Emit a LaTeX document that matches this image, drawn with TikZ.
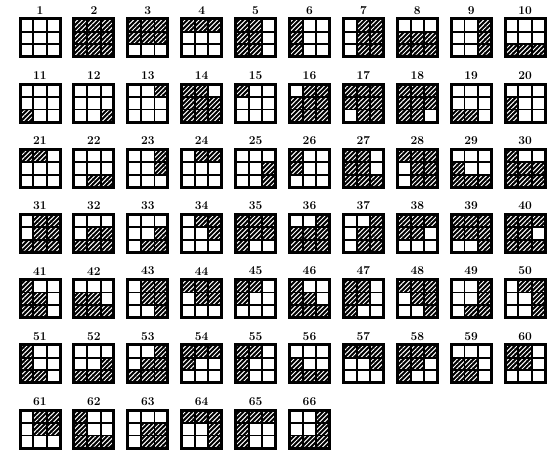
\documentclass[tikz,border=0pt]{standalone}
\usepackage{tikz}
\usetikzlibrary{patterns.meta}
\def\cellbits#1#2#3#4#5#6#7#8#9{#1,#2,#3,#4,#5,#6,#7,#8,#9}

\begin{document}
\begin{tikzpicture}[
    x=1pt, y=-1pt,
    hatched/.style={fill=black, postaction={pattern={Lines[angle=45, distance=3.3pt, line width=1.0pt]}, pattern color=white}},
    inner/.style={draw, line width=1.9pt},
    frame/.style={rectangle, draw, line width=3pt, minimum width=40, minimum height=38, inner sep=0pt},
    num/.style={font=\fontsize{12}{13}\selectfont\bfseries, inner sep=0.5pt}
]
  \useasboundingbox (0,0) rectangle (555,457);
  \foreach \n/\pat in {
    1/000000000, 2/111111111, 3/111111000, 4/111000000, 5/110110110,
    6/100100100, 7/011011011, 8/000111111, 9/001001001, 10/000000111,
    11/000000100, 12/000000001, 13/001000000, 14/110111111, 15/100000000,
    16/011111111, 17/111111011, 18/111111110, 19/000000110, 20/000100100,
    21/110000000, 22/000000011, 23/001001000, 24/011000000, 25/000001001,
    26/100100000, 27/110110111, 28/111011011, 29/000100111, 30/100111111,
    31/011011111, 32/000011111, 33/000001011, 34/011001000, 35/111111100,
    36/001111111, 37/001011011, 38/111110000, 39/111111001, 40/111110111,
    41/100110110, 42/000110111, 43/011011001, 44/111011000, 45/110100000,
    46/100110111, 47/110110100, 48/111011001, 49/001001011, 50/011001001,
    51/100100110, 52/000001111, 53/001011111, 54/111100000, 55/110100100,
    56/000100111, 57/111001000, 58/111110100, 59/000110110, 60/110110000,
    61/011011000, 62/100100111, 63/000011011, 64/111001001, 65/111100100,
    66/001001111
  }{
    \pgfmathtruncatemacro\col{mod(\n-1,10)}
    \pgfmathtruncatemacro\row{div(\n-1,10)}
    \pgfmathsetmacro\gx{40+53.9*\col}
    \pgfmathsetmacro\gy{38+65.2*\row}
    \edef\bits{\expandafter\cellbits\pat}
    % hatched cells
    \foreach \v [count=\k from 0] in \bits {
      \ifnum\v=1
        \pgfmathtruncatemacro\r{div(\k,3)}
        \pgfmathtruncatemacro\c{mod(\k,3)}
        \path[hatched] (\gx-20+13.33*\c, \gy-19+12.67*\r) rectangle ++(13.33,12.67);
      \fi
    }
    % cell lines and frame
    \draw[inner] (\gx-6.67, \gy-19) -- ++(0,38) (\gx+6.67, \gy-19) -- ++(0,38)
                 (\gx-20, \gy-6.33) -- ++(40,0) (\gx-20, \gy+6.33) -- ++(40,0);
    \node[frame] (g\n) at (\gx, \gy) {};
    \node[num, anchor=south] (l\n) at ([yshift=2.5pt]g\n.north) {\n};
  }
\end{tikzpicture}
\end{document}
